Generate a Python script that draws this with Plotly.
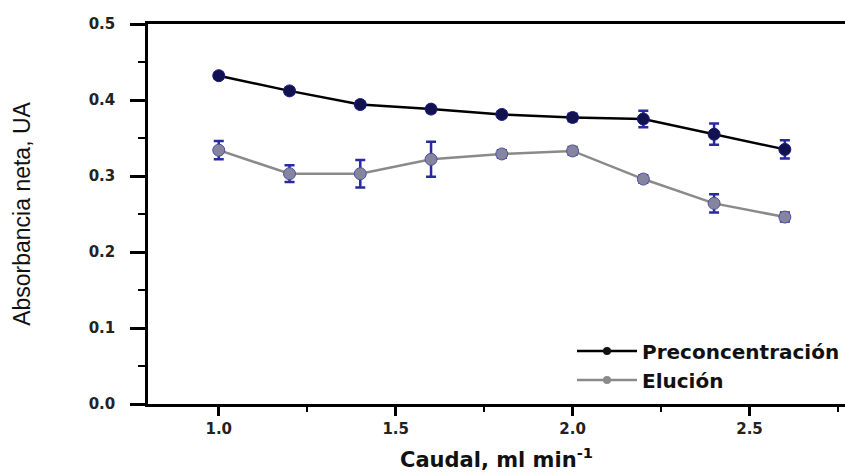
import plotly.graph_objects as go

caudal = [1.0, 1.2, 1.4, 1.6, 1.8, 2.0, 2.2, 2.4, 2.6]
preconc = [0.432, 0.412, 0.394, 0.388, 0.381, 0.377, 0.375, 0.355, 0.335]
preconc_err = [0.004, 0.004, 0.004, 0.004, 0.004, 0.005, 0.011, 0.014, 0.012]
elucion = [0.334, 0.303, 0.303, 0.322, 0.329, 0.333, 0.296, 0.264, 0.246]
elucion_err = [0.012, 0.011, 0.018, 0.023, 0.005, 0.005, 0.005, 0.012, 0.006]

y_ticks = [0.0, 0.1, 0.2, 0.3, 0.4, 0.5]
x_ticks = [1.0, 1.5, 2.0, 2.5]

WIDE = "DejaVu Sans, Verdana, sans-serif"

fig = go.Figure()
fig.add_trace(go.Scatter(
    x=caudal, y=preconc, name="Preconcentración", mode="lines+markers",
    line=dict(color="black", width=2.5), showlegend=False,
    marker=dict(symbol="circle", size=12, color="#12124f", line=dict(color="#1a1a80", width=1)),
    error_y=dict(type="data", array=preconc_err, color="#2a2aa0", thickness=2.5, width=5),
))
fig.add_trace(go.Scatter(
    x=caudal, y=elucion, name="Elución", mode="lines+markers",
    line=dict(color="#8a8a8a", width=2.5), showlegend=False,
    marker=dict(symbol="circle", size=12, color="#8585a0", line=dict(color="#5050a0", width=1)),
    error_y=dict(type="data", array=elucion_err, color="#2a2aa0", thickness=2.5, width=5),
))
# legend entries (smaller markers, as in the reference legend)
fig.add_trace(go.Scatter(
    x=[None], y=[None], name="Preconcentración", mode="lines+markers",
    line=dict(color="black", width=2.5),
    marker=dict(symbol="circle", size=8, color="#111111"),
))
fig.add_trace(go.Scatter(
    x=[None], y=[None], name="Elución", mode="lines+markers",
    line=dict(color="#8a8a8a", width=2.5),
    marker=dict(symbol="circle", size=8, color="#8a8a8a"),
))

fig.update_layout(
    width=845, height=472,
    margin=dict(l=148, r=0, t=24, b=68),
    paper_bgcolor="white", plot_bgcolor="white",
    font=dict(family=WIDE, color="#222"),
    showlegend=True,
    legend=dict(
        x=1.0, y=0.012, xanchor="right", yanchor="bottom",
        bgcolor="rgba(0,0,0,0)", tracegroupgap=0,
        font=dict(size=20, family=WIDE, color="#111", weight="bold"),
        itemwidth=60,
    ),
)
fig.update_xaxes(
    range=[0.8, 2.77], tickvals=x_ticks, tickformat=".1f",
    showgrid=False, zeroline=False,
    showline=True, linecolor="black", linewidth=2.5, mirror=True,
    ticks="outside", ticklen=9, tickwidth=2.5, tickcolor="black",
    minor=dict(dtick=0.25, ticks="outside", ticklen=5, tickwidth=2, tickcolor="black"),
    tickfont=dict(size=15, color="#222", weight="bold", family=WIDE),
    title=dict(text="Caudal, ml min<sup>-1</sup>", standoff=18,
               font=dict(size=21, color="#111", weight="bold", family=WIDE)),
)
fig.update_yaxes(
    range=[0.0, 0.5], tickvals=y_ticks, tickformat=".1f",
    showgrid=False, zeroline=False,
    showline=True, linecolor="black", linewidth=2.5,
    ticks="outside", ticklen=15, tickwidth=2.5, tickcolor="black",
    ticklabelstandoff=12,
    minor=dict(dtick=0.05, ticks="outside", ticklen=7, tickwidth=2, tickcolor="black"),
    tickfont=dict(size=15, color="#222", weight="bold", family=WIDE),
    title=dict(text="Absorbancia neta, UA", standoff=52,
               font=dict(size=23, color="#111", family="Liberation Sans, Arial")),
)

fig.write_html("out.html")
